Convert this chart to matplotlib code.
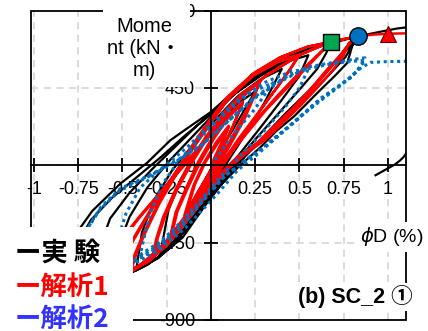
import matplotlib.pyplot as plt
from matplotlib.patches import Rectangle

plt.rcParams['font.family'] = ['Liberation Sans', 'Noto Sans CJK JP', 'DejaVu Sans']

exp_phi = [0.00, 0.12, 0.25,
           0.14, 0.02, -0.08, -0.17, -0.24, -0.28,
           -0.20, -0.10, 0.00, 0.10, 0.20, 0.30, 0.40,
           0.28, 0.15, 0.02, -0.10, -0.22, -0.32, -0.39, -0.42,
           -0.30, -0.17, -0.06, 0.05, 0.15, 0.28, 0.40, 0.50, 0.55,
           0.42, 0.28, 0.14, 0.00, -0.12, -0.24, -0.36, -0.46, -0.52, -0.55,
           -0.42, -0.30, -0.18, -0.07, 0.03, 0.13, 0.25, 0.38, 0.50, 0.60, 0.65, 0.68,
           0.52, 0.36, 0.20, 0.05, -0.08, -0.20, -0.33, -0.46, -0.57, -0.63, -0.66,
           -0.50, -0.36, -0.22, -0.10, 0.00, 0.10, 0.20, 0.32, 0.45, 0.58, 0.68, 0.76, 0.80, 0.83,
           0.67, 0.50, 0.31, 0.13, 0.00, -0.12, -0.23, -0.36, -0.51, -0.67, -0.75, -0.79, -0.80,
           -0.62, -0.44, -0.30, -0.16, -0.03, 0.06, 0.15, 0.28, 0.37, 0.47, 0.62, 0.70, 0.77, 0.80, 0.83,
           0.66, 0.48, 0.30, 0.12, -0.02, -0.15, -0.28, -0.42, -0.56, -0.68, -0.76, -0.80,
           -0.60, -0.42, -0.28, -0.14, -0.02, 0.08, 0.17, 0.30, 0.42, 0.55, 0.66, 0.74, 0.80, 0.84,
           0.95, 1.05, 1.15]
exp_m = [0, 200, 430,
         350, 220, 80, -80, -260, -480,
         -430, -300, -130, 30, 190, 360, 560,
         500, 400, 260, 120, -30, -200, -390, -590,
         -540, -400, -240, -80, 50, 220, 380, 520, 640,
         600, 520, 420, 280, 150, 20, -130, -300, -460, -650,
         -610, -540, -420, -260, -120, 0, 150, 300, 440, 560, 650, 718,
         675, 590, 480, 350, 230, 110, -20, -160, -310, -480, -690,
         -650, -580, -470, -320, -180, -60, 60, 180, 300, 430, 540, 630, 700, 750,
         713, 655, 555, 430, 310, 225, 145, 15, -105, -265, -380, -540, -730,
         -680, -613, -540, -420, -230, -110, -15, 105, 200, 285, 440, 520, 595, 700, 750,
         705, 640, 540, 405, 280, 170, 50, -70, -190, -320, -470, -720,
         -660, -590, -500, -370, -200, -80, 30, 170, 300, 430, 550, 640, 710, 752,
         775, 795, 808]

# short black piece near phi = 1
exp2_phi = [0.93, 0.97, 1.00, 1.04, 1.07, 1.09, 1.12]
exp2_m = [-58, -35, -18, 5, 29, 50, 95]

# analysis 1 (red)
ana1_phi = [0.00, 0.04, 0.10,
            0.04, -0.03, -0.09, -0.14,
            -0.08, -0.01, 0.05, 0.10,
            0.03, -0.04, -0.10, -0.15,
            -0.09, -0.02, 0.05, 0.12, 0.18,
            0.10, 0.02, -0.06, -0.13, -0.19, -0.22,
            -0.15, -0.07, 0.00, 0.07, 0.13, 0.18,
            0.09, 0.01, -0.07, -0.14, -0.20, -0.23,
            -0.15, -0.07, 0.01, 0.09, 0.17, 0.23, 0.28,
            0.18, 0.08, -0.02, -0.11, -0.19, -0.26, -0.30, -0.32,
            -0.22, -0.13, -0.05, 0.03, 0.11, 0.19, 0.24, 0.28,
            0.17, 0.07, -0.03, -0.12, -0.20, -0.27, -0.31, -0.33,
            -0.25, -0.15, -0.06, 0.03, 0.12, 0.22, 0.32, 0.42, 0.50,
            0.38, 0.24, 0.10, -0.01, -0.11, -0.20, -0.29, -0.37, -0.42, -0.45,
            -0.34, -0.23, -0.13, -0.03, 0.06, 0.16, 0.27, 0.38, 0.45, 0.50,
            0.37, 0.23, 0.09, -0.02, -0.12, -0.21, -0.30, -0.38, -0.43, -0.46,
            -0.35, -0.24, -0.14, -0.05, 0.04, 0.14, 0.26, 0.38, 0.50, 0.60, 0.68,
            0.55, 0.40, 0.25, 0.11, 0.00, -0.10, -0.20, -0.30, -0.40, -0.48, -0.53, -0.56,
            -0.44, -0.32, -0.21, -0.11, -0.02, 0.08, 0.19, 0.31, 0.44, 0.56, 0.68,
            0.54, 0.39, 0.24, 0.10, -0.01, -0.11, -0.21, -0.31, -0.41, -0.49, -0.54, -0.57,
            -0.45, -0.33, -0.22, -0.10, 0.00, 0.10, 0.20, 0.31, 0.40, 0.50, 0.60, 0.69, 0.75, 0.78, 0.83,
            0.68, 0.50, 0.31, 0.12, 0.01, -0.10, -0.20, -0.30, -0.40, -0.50, -0.58, -0.63, -0.66,
            -0.50, -0.38, -0.26, -0.14, -0.03, 0.07, 0.17, 0.28, 0.38, 0.48, 0.58, 0.67, 0.74, 0.79, 0.83,
            0.67, 0.49, 0.30, 0.11, 0.00, -0.11, -0.21, -0.31, -0.41, -0.51, -0.59, -0.64, -0.67,
            -0.52, -0.40, -0.28, -0.16, -0.05, 0.05, 0.15, 0.26, 0.36, 0.46, 0.56, 0.65, 0.73, 0.78, 0.83,
            0.92, 1.00, 1.15]
ana1_m = [0, 90, 220,
          130, 20, -110, -280,
          -165, -45, 85, 230,
          135, 15, -120, -290,
          -190, -60, 70, 220, 360,
          280, 160, 20, -130, -270, -400,
          -300, -160, -30, 100, 240, 370,
          285, 165, 25, -130, -275, -410,
          -320, -170, -30, 110, 260, 380, 490,
          410, 300, 160, 10, -140, -300, -420, -520,
          -430, -300, -160, -20, 120, 270, 390, 495,
          415, 305, 165, 15, -140, -300, -430, -530,
          -470, -340, -200, -60, 80, 230, 380, 520, 640,
          600, 520, 390, 240, 90, -60, -220, -390, -510, -610,
          -540, -420, -280, -130, 10, 160, 310, 460, 560, 645,
          605, 525, 395, 245, 95, -60, -225, -395, -515, -615,
          -560, -440, -300, -150, -20, 120, 270, 410, 540, 640, 718,
          690, 630, 540, 400, 250, 100, -50, -200, -370, -510, -600, -660,
          -610, -520, -400, -250, -110, 30, 170, 320, 460, 590, 718,
          688, 628, 535, 395, 245, 95, -55, -205, -375, -515, -605, -665,
          -620, -540, -430, -280, -140, -20, 70, 150, 240, 340, 450, 555, 640, 712, 750,
          720, 640, 520, 340, 190, 60, -60, -180, -300, -430, -560, -640, -690,
          -650, -570, -460, -320, -170, -40, 60, 140, 240, 340, 450, 560, 650, 720, 750,
          716, 636, 515, 335, 185, 55, -65, -185, -305, -435, -565, -645, -695,
          -660, -580, -470, -330, -180, -50, 50, 130, 230, 330, 440, 550, 640, 705, 750,
          760, 765, 768]

# analysis 2 (blue dotted)
ana2_phi = [0.00, 0.12, 0.25, 0.35,
            0.22, 0.08, -0.06, -0.18, -0.28, -0.35, -0.40,
            -0.28, -0.16, -0.05, 0.06, 0.18, 0.30, 0.42, 0.50, 0.55,
            0.45, 0.30, 0.15, 0.00, -0.14, -0.28, -0.40, -0.48, -0.53, -0.55,
            -0.45, -0.30, -0.15, -0.03, 0.05, 0.15, 0.27, 0.40, 0.50, 0.62, 0.72, 0.79, 0.84, 0.87,
            0.70, 0.54, 0.40, 0.25, 0.10, -0.05, -0.19, -0.35, -0.51, -0.62, -0.70, -0.74, -0.75,
            -0.60, -0.45, -0.30, -0.16, -0.04, 0.07, 0.18, 0.30, 0.42, 0.55, 0.65, 0.74, 0.82, 0.87,
            0.80, 0.68, 0.52, 0.38, 0.24, 0.09, -0.06, -0.20, -0.36, -0.52, -0.63, -0.71, -0.75, -0.76,
            -0.60, -0.45, -0.30, -0.16, -0.03, 0.08, 0.20, 0.32, 0.45, 0.58, 0.68, 0.77, 0.84, 0.90,
            1.00, 1.15]
ana2_m = [0, 170, 330, 480,
          420, 300, 160, 30, -120, -300, -520,
          -440, -320, -190, -60, 70, 200, 340, 450, 560,
          545, 480, 380, 240, 100, -20, -130, -280, -440, -600,
          -580, -500, -370, -240, -150, -30, 70, 190, 280, 390, 460, 510, 570, 625,
          600, 570, 500, 400, 260, 120, 30, -60, -134, -240, -370, -500, -650,
          -630, -570, -480, -350, -200, -70, 20, 110, 210, 320, 400, 470, 540, 610,
          605, 590, 555, 480, 385, 250, 110, 20, -70, -150, -260, -390, -520, -650,
          -630, -560, -470, -340, -190, -60, 30, 120, 230, 350, 430, 497, 560, 598,
          603, 605]

# peak markers
sq_phi, sq_m = [0.68], [718]
ci_phi, ci_m = [0.83], [752]
tr_phi, tr_m = [1.00], [765]

xticks = [-1, -0.75, -0.5, -0.25, 0, 0.25, 0.5, 0.75, 1]
xlabels = ['-1', '-0.75', '-0.5', '-0.25', '0', '0.25', '0.5', '0.75', '1']
yticks = [-900, -450, 0, 450, 900]
ylabels = ['-900', '-450', '0', '450', '900']

W, H = 428, 331


def fx(px):
    return px / W


def fy(py):
    return 1 - py / H


fig = plt.figure(figsize=(W / 100, H / 100), dpi=100)
ax = fig.add_axes([fx(31), fy(320), 375 / W, 309.5 / H])

ax.plot(exp_phi, exp_m, color='black', lw=1.6, zorder=2, solid_joinstyle='round')
ax.plot(exp2_phi, exp2_m, color='black', lw=1.6, zorder=2, solid_joinstyle='round')
ax.plot(ana1_phi, ana1_m, color='#ff0000', lw=1.8, zorder=2.1, solid_joinstyle='round')
ax.plot(ana2_phi, ana2_m, color='#0070c0', lw=2.2, ls=(0, (1, 1.2)), zorder=2.2)

ax.plot(sq_phi, sq_m, 's', ms=11, mfc='#00a550', mec='black', mew=1, zorder=3)
ax.plot(ci_phi, ci_m, 'o', ms=12.5, mfc='#0070c0', mec='black', mew=1, zorder=3)
ax.plot(tr_phi, tr_m, '^', ms=12, mfc='#ff0000', mec='#600000', mew=0.8, zorder=3)

ax.set_xlim(-1.017, 1.102)
ax.set_ylim(-900, 900)
ax.set_xticks(xticks, labels=xlabels)
ax.set_yticks(yticks, labels=ylabels)
ax.set_axisbelow(True)
ax.grid(True, color='#d9d9d9', lw=1.3, ls=(0, (4, 3)))

# axes through the origin, frame drawn separately
ax.spines['left'].set_position(('data', 0))
ax.spines['bottom'].set_position(('data', 0))
ax.spines['top'].set_visible(False)
ax.spines['right'].set_visible(False)
for s in ['left', 'bottom']:
    ax.spines[s].set_linewidth(1.3)
ax.add_patch(Rectangle((0, 0), 1, 1, transform=ax.transAxes, fill=False,
                       ec='black', lw=1.3, clip_on=False, zorder=2.6))
ax.tick_params(direction='inout', length=10, width=1.3, labelsize=13, pad=6.5)

# white boxes for the text blocks
for x0, y0, x1, y1 in [(103, 0, 190, 87), (356, 222, 428, 252),
                       (288, 283, 422, 311), (0, 227, 133, 331)]:
    fig.add_artist(Rectangle((fx(x0), fy(y1)), (x1 - x0) / W, (y1 - y0) / H,
                             transform=fig.transFigure, fc='white', ec='none', zorder=1))

fig.text(fx(144), fy(48), 'Mome\nnt (kN・\nm)', ha='center', va='center',
         multialignment='center', fontsize=14.5, linespacing=1.2, zorder=4)
fig.text(fx(392), fy(237), r'$\phi$D (%)', ha='center', va='center', fontsize=14, zorder=4)
fig.text(fx(355), fy(297), '(b) SC_2 ①', ha='center', va='center', fontsize=15.5,
         fontweight='bold', zorder=4)

leg_font = ['Noto Sans CJK JP', 'DejaVu Sans']
fig.text(fx(15), fy(253), 'ー実 験', ha='left', va='center', fontsize=19,
         fontweight='bold', color='black', family=leg_font, zorder=4)
fig.text(fx(15), fy(287), 'ー解析1', ha='left', va='center', fontsize=19,
         fontweight='bold', color='#ff0000', family=leg_font, zorder=4)
fig.text(fx(15), fy(319), 'ー解析2', ha='left', va='center', fontsize=19,
         fontweight='bold', color='#3333ff', family=leg_font, zorder=4)

fig.savefig('out.png', dpi=100)
